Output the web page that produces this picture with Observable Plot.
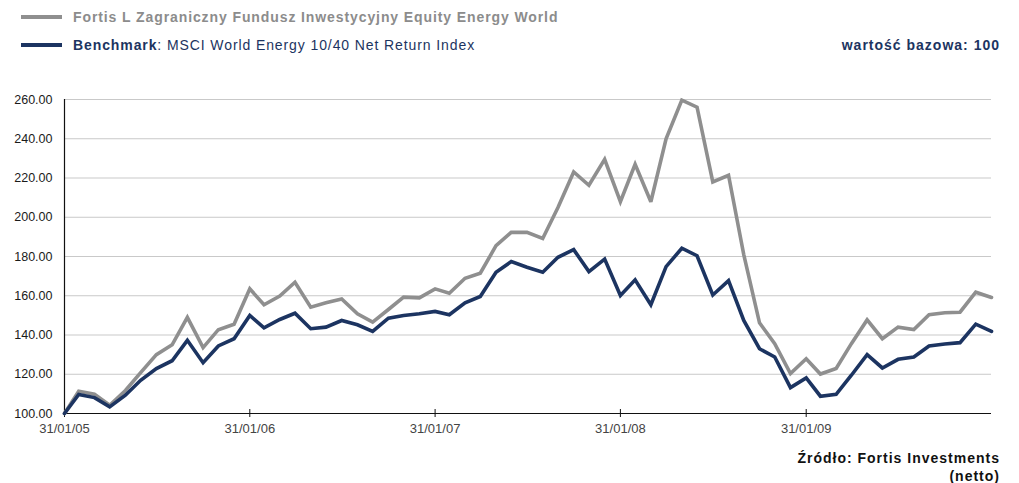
<!DOCTYPE html>
<html>
<head>
<meta charset="utf-8">
<script src="https://cdn.jsdelivr.net/npm/d3@7"></script>
<script src="https://cdn.jsdelivr.net/npm/@observablehq/plot@0.6"></script>
<style>
  body { margin: 0; background: #fff; font-family: "Liberation Sans", Arial, sans-serif; }
  #wrap { position: relative; width: 1019px; height: 483px; overflow: hidden; }
  .leg { position: absolute; left: 21px; display: flex; align-items: center; font-size: 14px; letter-spacing: 0.9px; white-space: nowrap; }
  .sw { width: 41px; height: 4px; margin-right: 11px; }
  #chart { position: absolute; left: 0; top: 80px; }
  .right { position: absolute; text-align: right; font-weight: bold; white-space: nowrap; font-size: 14px; letter-spacing: 1px; }
</style>
</head>
<body>
<div id="wrap">
  <div class="leg" style="top:9px;color:#8c8c8c;font-weight:bold;"><div class="sw" style="background:#8f8f8f"></div><span id="s1"></span></div>
  <div class="leg" style="top:37px;color:#1c3461;"><div class="sw" style="background:#1c3461"></div><span><b id="s2b"></b><span id="s2"></span></span></div>
  <div class="right" id="base" style="top:37px;right:19px;color:#1c3461;"></div>
  <div id="chart"></div>
  <div class="right" style="top:449px;right:19px;color:#111;line-height:18px;"><span id="src"></span><br><span id="netto"></span></div>
</div>
<script>
// ---- data ----
const seriesNames = ["Fortis L Zagraniczny Fundusz Inwestycyjny Equity Energy World", "Benchmark"];
const benchmarkDesc = ": MSCI World Energy 10/40 Net Return Index";
const baseNote = "wartość bazowa: 100";
const sourceNote = "Źródło: Fortis Investments";
const sourceNote2 = "(netto)";
const startMonth = "2005-01"; // monthly, month-end values
const fund = [100, 111.3, 109.8, 104.2, 111.7, 120.8, 130.0, 135.0, 149.0, 133.6, 142.7, 145.5,
  163.5, 155.4, 159.8, 166.9, 154.2, 156.4, 158.4, 150.8, 146.6, 153.0, 159.3, 158.9,
  163.5, 161.3, 168.9, 171.5, 185.5, 192.3, 192.3, 189.2, 205.0, 223.1, 216.3, 229.5,
  207.9, 227.0, 207.9, 240.0, 259.7, 256.1, 218.0, 221.4, 181.0, 146.2, 135.6, 120.3,
  127.9, 120.1, 122.9, 135.6, 147.7, 138.1, 144.0, 142.8, 150.3, 151.3, 151.6, 161.8, 159.1];
const benchmark = [100, 109.7, 108.1, 103.4, 109.3, 116.9, 122.9, 126.9, 137.3, 125.9, 134.4, 138.1,
  150.0, 143.7, 147.9, 151.1, 143.2, 144.0, 147.4, 145.2, 141.8, 148.6, 149.9, 150.8,
  152.0, 150.3, 156.4, 159.6, 172.0, 177.4, 174.5, 172.0, 179.6, 183.5, 172.3, 178.7,
  160.1, 168.1, 155.4, 174.8, 184.2, 180.4, 160.4, 167.7, 147.4, 133.0, 128.8, 113.2,
  118.1, 108.8, 109.8, 119.5, 130.0, 123.2, 127.6, 128.8, 134.4, 135.4, 136.1, 145.5, 141.8];
const xTickLabels = ["31/01/05", "31/01/06", "31/01/07", "31/01/08", "31/01/09"];
const yTicks = [100, 120, 140, 160, 180, 200, 220, 240, 260];
const colors = ["#8f8f8f", "#1c3461"];

// ---- text ----
document.getElementById("s1").textContent = seriesNames[0];
document.getElementById("s2b").textContent = seriesNames[1];
document.getElementById("s2").textContent = benchmarkDesc;
document.getElementById("base").textContent = baseNote;
document.getElementById("src").textContent = sourceNote;
document.getElementById("netto").textContent = sourceNote2;

// ---- build table ----
const start = d3.utcParse("%Y-%m")(startMonth);
const monthEnd = i => d3.utcDay.offset(d3.utcMonth.offset(start, i + 1), -1);
const parseTick = d3.utcParse("%d/%m/%y");
const xTicks = xTickLabels.map(parseTick);
const rows = [];
fund.forEach((v, i) => rows.push({date: monthEnd(i), value: v, series: seriesNames[0]}));
benchmark.forEach((v, i) => rows.push({date: monthEnd(i), value: v, series: seriesNames[1]}));
const firstDate = monthEnd(0);

const chart = Plot.plot({
  width: 1019,
  height: 370,
  marginTop: 19,
  marginBottom: 37,
  marginLeft: 64,
  marginRight: 28,
  style: {fontFamily: "'Liberation Sans', Arial, sans-serif", background: "#fff"},
  x: {type: "utc", domain: [firstDate, monthEnd(fund.length - 1)]},
  y: {domain: [100, 260]},
  color: {domain: seriesNames, range: colors},
  marks: [
    Plot.gridY({ticks: yTicks, stroke: "#c9c9c9", strokeOpacity: 1, strokeWidth: 1}),
    Plot.axisY({ticks: yTicks, tickSize: 0, tickPadding: 12, tickFormat: d => d.toFixed(2), fontSize: 12.5, fill: "#1a1a1a", label: null}),
    Plot.axisX({ticks: xTicks, tickSize: 4, tickPadding: 6, tickFormat: d3.utcFormat("%d/%m/%y"), fontSize: 13, fill: "#444", stroke: "#111", label: null}),
    Plot.axisX({ticks: xTicks, tickSize: -4, tickFormat: () => "", stroke: "#111", label: null}),
    Plot.ruleX([firstDate], {stroke: "#111", strokeWidth: 1.2}),
    Plot.ruleY([100], {stroke: "#111", strokeWidth: 1.2}),
    Plot.line(rows, {x: "date", y: "value", z: "series", stroke: "series", strokeWidth: 3.6, strokeLinejoin: "miter", strokeMiterlimit: 3})
  ]
});
document.getElementById("chart").appendChild(chart);
</script>
</body>
</html>
